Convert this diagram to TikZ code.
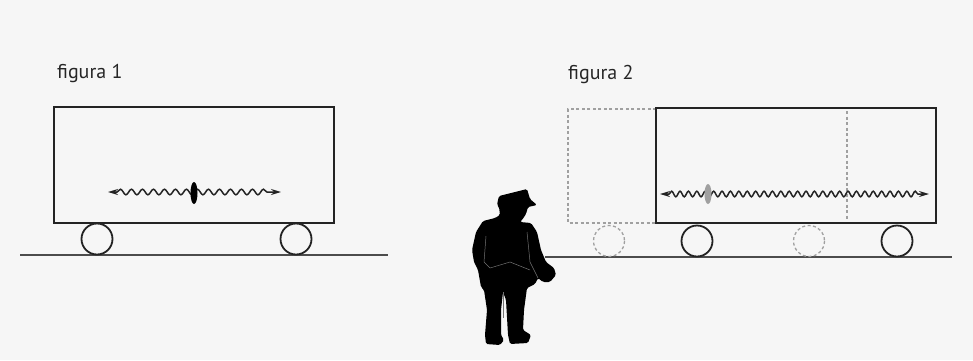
\documentclass[tikz,border=0pt]{standalone}
\usepackage{fontspec}
\setmainfont{PT Sans}
\usetikzlibrary{arrows.meta,decorations.pathmorphing}
\definecolor{myBack}{RGB}{246, 246, 246}
\definecolor{myGrey}{RGB}{160, 160, 160}
\definecolor{myLine}{RGB}{35, 35, 35}
\newcommand{\beschriftung}[3]{\node [anchor = base west, inner sep = 0pt, font = \fontsize{20}{22}\selectfont, text = black!85] at (#1, #2) {#3};}
\tikzset{
  wagen/.style = {draw = myLine, line width = 2pt},
  geist/.style = {draw = myGrey, line width = 1.3pt, dash pattern = on 3pt off 2.5pt},
  rad/.style = {draw = myLine, line width = 1.8pt},
  schiene/.style = {draw = black!70, line width = 2pt},
  welle/.style = {myLine, line width = 1.5pt, decorate,
    decoration = {snake, amplitude = 2.8pt, segment length = #1, pre length = 9pt, post length = 9pt},
    {Stealth[length = 10pt, width = 6pt]}-{Stealth[length = 10pt, width = 6pt]}},
  welle/.default = 9pt
}

\begin{document}
\begin{tikzpicture}[x = 1pt, y = -1pt]   % 1 Punkt = 1 Pixel, y nach unten
  \useasboundingbox [fill = myBack] (0, 0) rectangle (973, 360);
  % ---------- figura 1 ----------
  \beschriftung{57}{78}{figura 1}
  \draw [schiene] (20, 255) -- (388, 255);
  \draw [wagen] (54, 107) rectangle (334, 223);
  \draw [rad] (97, 239) circle (15.5);
  \draw [rad] (296, 239) circle (15.5);
  \coordinate (w1a) at (108, 192);
  \coordinate (w1b) at (281, 192);
  \draw [welle = 11pt] (w1a) -- (w1b);
  \fill [black] (194, 193) ellipse (3.5 and 11);
  % ---------- figura 2 ----------
  \beschriftung{568}{79}{figura 2}
  \draw [schiene] (545, 257) -- (952, 257);
  % alte Lage
  \draw [geist] (656, 109) -- (568, 109) -- (568, 223) -- (656, 223);
  \draw [geist] (609, 241) circle (15.5);
  \draw [geist] (809, 241) circle (15.5);
  % neue Lage
  \draw [wagen] (656, 108) rectangle (936, 223);
  \draw [geist] (847, 111) -- (847, 219);
  \draw [rad] (697, 241) circle (15.5);
  \draw [rad] (897, 241) circle (15.5);
  \coordinate (w2a) at (660, 194);
  \coordinate (w2b) at (929, 194);
  \draw [welle = 8.4pt] (w2a) -- (w2b);
  \fill [myGrey] (708, 194) ellipse (3.5 and 10);
  % ---------- Beobachter ----------
  \fill [black, rounded corners = 1.5pt]
    (499, 196) -- (527, 189) -- (530, 199) -- (537, 205) -- (528, 207)
    -- (526, 214) -- (522, 220) -- (520, 222) -- (531, 223) -- (537, 232)
    -- (541, 250) -- (546, 262) -- (554, 268) -- (556, 275) -- (550, 282)
    -- (543, 282) -- (538, 278) -- (535, 284) -- (527, 288) -- (524, 310)
    -- (523, 330) -- (531, 335) -- (528, 343) -- (510, 344) -- (508, 335)
    -- (506, 300) -- (503, 292) -- (501, 310) -- (501, 335) -- (504, 340)
    -- (500, 345) -- (486, 344) -- (485, 335) -- (487, 310) -- (484, 290)
    -- (481, 287) -- (478, 270) -- (474, 262) -- (472, 250) -- (476, 232)
    -- (483, 221) -- (495, 218) -- (500, 215) -- (499, 207) -- (497, 205)
    -- (498, 200) -- cycle;
  % Falten im Mantel
  \draw [black!55, line width = 0.5pt] (486, 236) -- (484, 262) -- (490, 268);
  \draw [black!55, line width = 0.5pt] (490, 268) -- (510, 262) -- (530, 270);
  \draw [black!55, line width = 0.5pt] (503, 292) -- (503, 318);
  \draw [black!55, line width = 0.5pt] (527, 232) -- (530, 262) -- (538, 278);
\end{tikzpicture}
\end{document}
